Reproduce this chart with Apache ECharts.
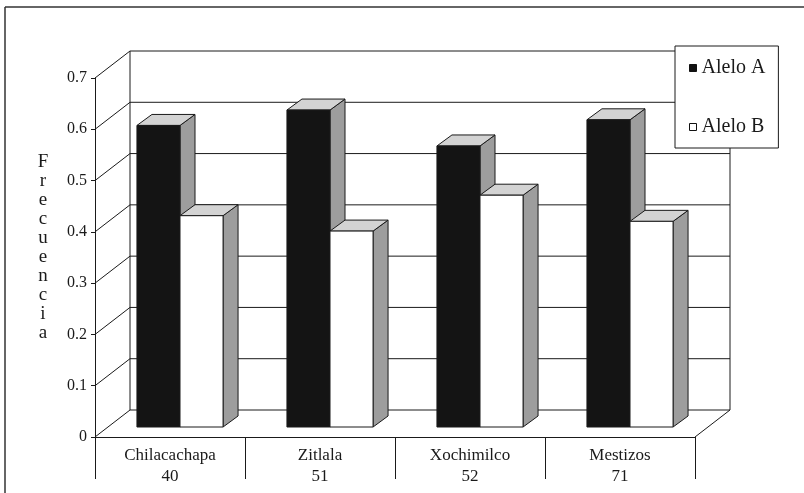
<!DOCTYPE html>
<html>
<head>
<meta charset="utf-8">
<script src="https://cdn.jsdelivr.net/npm/echarts@6/dist/echarts.min.js"></script>
<style>
  html, body { margin: 0; padding: 0; background: #fff; }
  #chart { width: 804px; height: 493px; }
</style>
</head>
<body>
<div id="chart"></div>
<script>
// data
const categories = ['Chilacachapa', 'Zitlala', 'Xochimilco', 'Mestizos'];
const sampleSizes = ['40', '51', '52', '71'];
const aleloA = [0.588, 0.618, 0.548, 0.599];
const aleloB = [0.412, 0.382, 0.452, 0.401];
const yTicks = [0, 0.1, 0.2, 0.3, 0.4, 0.5, 0.6, 0.7];

const FONT = '"Liberation Serif", "DejaVu Serif", serif';
const INK = '#1a1a1a';

// 3d look
const WALL_DX = 35, WALL_DY = -27; // depth of the whole box
const BAR_DX = 10, BAR_DY = -10;   // where the bars stand
const DEPTH_DX = 15, DEPTH_DY = -11; // bar thickness
const BAR_FRAC = 0.287;

const chart = echarts.init(document.getElementById('chart'));

function renderWall(params, api) {
  const cs = params.coordSys;
  const v = api.value(1);
  const y = api.coord([0, v])[1];
  const x0 = cs.x, w = cs.width;
  const style = { stroke: INK, lineWidth: 1, fill: null };
  const children = [{
    type: 'polyline',
    shape: { points: [[x0, y], [x0 + WALL_DX, y + WALL_DY], [x0 + w + WALL_DX, y + WALL_DY]] },
    style
  }];
  if (params.dataIndex === 0) {
    children.push({
      type: 'line',
      shape: { x1: x0 + w, y1: y, x2: x0 + w + WALL_DX, y2: y + WALL_DY },
      style
    });
  }
  if (params.dataIndex === yTicks.length - 1) {
    const yb = cs.y + cs.height + WALL_DY;
    [x0 + WALL_DX, x0 + w + WALL_DX].forEach(function (xx) {
      children.push({
        type: 'line',
        shape: { x1: xx, y1: y + WALL_DY, x2: xx, y2: yb },
        style
      });
    });
  }
  return { type: 'group', children };
}

function makeBarRenderer(front, side) {
  return function (params, api) {
    const i = api.value(0);
    const top = api.coord([i, api.value(1)]);
    const base = api.coord([i, 0]);
    const bw = api.size([1, 0])[0] * BAR_FRAC;
    const left = side === 0 ? top[0] + BAR_DX - bw : top[0] + BAR_DX;
    const yt = top[1] + BAR_DY;
    const yb = base[1] + BAR_DY;
    const r = left + bw;
    const stroke = { stroke: INK, lineWidth: 1 };
    return {
      type: 'group',
      children: [
        {
          type: 'polygon',
          shape: { points: [[r, yt], [r + DEPTH_DX, yt + DEPTH_DY], [r + DEPTH_DX, yb + DEPTH_DY], [r, yb]] },
          style: Object.assign({ fill: '#9d9d9d' }, stroke)
        },
        {
          type: 'polygon',
          shape: { points: [[left, yt], [r, yt], [r + DEPTH_DX, yt + DEPTH_DY], [left + DEPTH_DX, yt + DEPTH_DY]] },
          style: Object.assign({ fill: '#d3d3d3' }, stroke)
        },
        {
          type: 'rect',
          shape: { x: left, y: yt, width: bw, height: yb - yt },
          style: Object.assign({ fill: front }, stroke)
        }
      ]
    };
  };
}

chart.setOption({
  backgroundColor: '#fff',
  animation: false,
  grid: { left: 95, right: 109, top: 78, bottom: 56 },
  graphic: [
    { type: 'line', shape: { x1: 5, y1: 7, x2: 804, y2: 7 }, style: { stroke: '#333', lineWidth: 1.5 } },
    { type: 'line', shape: { x1: 5, y1: 7, x2: 5, y2: 493 }, style: { stroke: '#333', lineWidth: 1.5 } }
  ],
  legend: {
    orient: 'vertical',
    left: 675,
    top: 46,
    padding: [12, 13, 11, 14],
    itemGap: 39,
    itemWidth: 7,
    itemHeight: 7,
    backgroundColor: '#fff',
    borderColor: INK,
    borderWidth: 1,
    textStyle: { fontFamily: FONT, fontSize: 20, color: INK },
    data: [
      { name: 'Alelo A', icon: 'rect', itemStyle: { color: '#111', borderColor: '#111', borderWidth: 1 } },
      { name: 'Alelo B', icon: 'rect', itemStyle: { color: '#fff', borderColor: '#111', borderWidth: 1 } }
    ]
  },
  xAxis: {
    type: 'category',
    data: categories,
    boundaryGap: true,
    axisLine: { lineStyle: { color: INK, width: 1 } },
    axisTick: { show: true, length: 42, interval: 0, lineStyle: { color: INK } },
    axisLabel: {
      interval: 0,
      margin: 8,
      fontFamily: FONT,
      fontSize: 17,
      lineHeight: 21,
      color: INK,
      formatter: function (v, idx) { return v + '\n' + sampleSizes[idx]; }
    },
    splitLine: { show: false }
  },
  yAxis: {
    type: 'value',
    min: 0,
    max: 0.7,
    interval: 0.1,
    // one letter per line, trailing blank line lifts the block a little
    name: 'Frecuencia'.split('').join('\n') + '\n ',
    nameLocation: 'middle',
    nameRotate: 0,
    nameGap: 52,
    nameTextStyle: {
      fontFamily: FONT,
      fontSize: 19,
      lineHeight: 19,
      color: INK,
      align: 'center',
      verticalAlign: 'middle'
    },
    axisLine: { show: true, lineStyle: { color: INK, width: 1 } },
    axisTick: { show: true, length: 4, lineStyle: { color: INK } },
    axisLabel: {
      margin: 8,
      fontFamily: FONT,
      fontSize: 16,
      color: INK,
      formatter: function (v) { return String(Math.round(v * 10) / 10); }
    },
    splitLine: { show: false }
  },
  series: [
    {
      type: 'custom',
      name: 'wall',
      silent: true,
      z: 1,
      renderItem: renderWall,
      encode: { x: 0, y: 1 },
      data: yTicks.map(function (v) { return [0, v]; })
    },
    {
      type: 'custom',
      name: 'Alelo A',
      z: 3,
      itemStyle: { color: '#111' },
      renderItem: makeBarRenderer('#141414', 0),
      encode: { x: 0, y: 1 },
      data: aleloA.map(function (v, i) { return [i, v]; })
    },
    {
      type: 'custom',
      name: 'Alelo B',
      z: 4,
      itemStyle: { color: '#fff' },
      renderItem: makeBarRenderer('#ffffff', 1),
      encode: { x: 0, y: 1 },
      data: aleloB.map(function (v, i) { return [i, v]; })
    }
  ]
});
</script>
</body>
</html>
